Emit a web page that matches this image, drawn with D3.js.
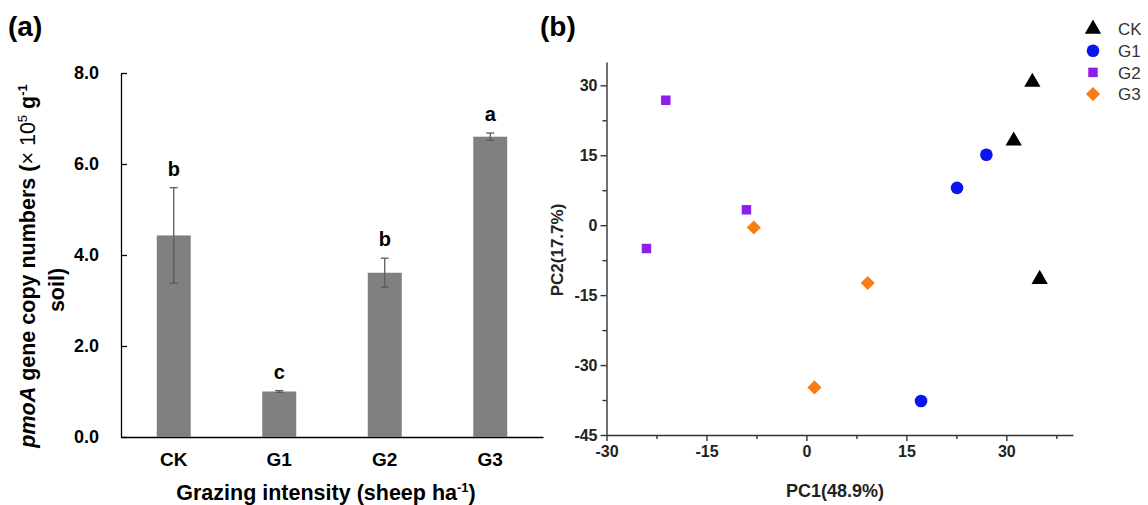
<!DOCTYPE html>
<html>
<head>
<meta charset="utf-8">
<script src="https://cdn.jsdelivr.net/npm/d3@7"></script>
<style>
  body { margin: 0; background: #fff; }
  svg { display: block; font-family: Arial, "Liberation Sans", sans-serif; }
</style>
</head>
<body>
<svg id="fig" width="1148" height="505"></svg>
<script>
// ---- panel (a) data: pmoA copy numbers by grazing intensity ----
let groups = ['CK', 'G1', 'G2', 'G3'];
let copyMeans = [4.43, 1.0, 3.61, 6.60];
let copyErrors = [1.05, 0.02, 0.32, 0.08];
let sigLetters = ['b', 'c', 'b', 'a'];
let copyTicks = [0, 2, 4, 6, 8];

// ---- panel (b) data: PCA scores, three replicates per group ----
let pcaGroup = ['CK', 'CK', 'CK', 'G1', 'G1', 'G1', 'G2', 'G2', 'G2', 'G3', 'G3', 'G3'];
let pc1 = [33.9, 31.1, 35.0, 27.0, 22.6, 17.2, -21.1, -9.0, -24.0, -7.9, 9.2, 1.2];
let pc2 = [30.7, 18.1, -11.6, 15.1, 8.0, -37.7, 26.8, 3.3, -5.0, -0.5, -12.4, -34.8];
let pc1Ticks = [-30, -15, 0, 15, 30];
let pc1Minor = [-22.5, -7.5, 7.5, 22.5, 37.5];
let pc2Ticks = [-45, -30, -15, 0, 15, 30];
let pc2Minor = [-37.5, -22.5, -7.5, 7.5, 22.5];

let svg = d3.select('#fig');

// ================= panel (a) =================
let a = svg.append('g').attr('class', 'panel-a');

let xA = d3.scaleBand()
    .domain(groups)
    .range([121, 543])
    .paddingInner(0.678)
    .paddingOuter(0.339);
let yA = d3.scaleLinear().domain([0, 8]).range([437, 73]);

a.append('g')
    .attr('transform', 'translate(121,0)')
    .call(d3.axisLeft(yA).tickValues(copyTicks).tickFormat(d3.format('.1f'))
        .tickSizeInner(-6).tickSizeOuter(0).tickPadding(22))
    .call(g => g.selectAll('text').attr('font-size', 18).attr('font-weight', 'bold').attr('fill', '#000'))
    .call(g => g.selectAll('line,path').attr('stroke', '#000').attr('stroke-width', 1.3))
    .attr('font-family', null);

a.append('g')
    .attr('transform', 'translate(0,437)')
    .call(d3.axisBottom(xA).tickSize(0).tickPadding(16))
    .call(g => g.selectAll('text').attr('font-size', 19).attr('font-weight', 'bold').attr('fill', '#000'))
    .call(g => g.selectAll('path').attr('stroke', '#000').attr('stroke-width', 1.3))
    .attr('font-family', null);

let bars = a.append('g').selectAll('g')
    .data(groups.map((g, i) => ({ g, m: copyMeans[i], e: copyErrors[i], s: sigLetters[i] })))
    .join('g');

bars.append('rect')
    .attr('x', d => xA(d.g))
    .attr('width', xA.bandwidth())
    .attr('y', d => yA(d.m))
    .attr('height', d => yA(0) - yA(d.m))
    .attr('fill', '#808080');

// error bars
let cx = d => xA(d.g) + xA.bandwidth() / 2;
bars.append('line')
    .attr('x1', cx).attr('x2', cx)
    .attr('y1', d => yA(d.m - d.e)).attr('y2', d => yA(d.m + d.e))
    .attr('stroke', '#5a5a5a').attr('stroke-width', 1.3);
bars.selectAll('line.cap')
    .data(d => [{ d, v: d.m + d.e }, { d, v: d.m - d.e }])
    .join('line')
    .attr('class', 'cap')
    .attr('x1', o => cx(o.d) - 4).attr('x2', o => cx(o.d) + 4)
    .attr('y1', o => yA(o.v)).attr('y2', o => yA(o.v))
    .attr('stroke', '#5a5a5a').attr('stroke-width', 1.3);

bars.append('text')
    .attr('x', cx)
    .attr('y', d => yA(d.m + d.e) - 12)
    .attr('text-anchor', 'middle')
    .attr('font-size', 20).attr('font-weight', 'bold')
    .text(d => d.s);

// axis titles
let xt = a.append('text')
    .attr('x', 326).attr('y', 500)
    .attr('text-anchor', 'middle')
    .attr('font-size', 21.5).attr('font-weight', 'bold');
xt.append('tspan').text('Grazing intensity (sheep ha');
xt.append('tspan').attr('dy', -8).attr('font-size', 13).text('-1');
xt.append('tspan').attr('dy', 8).text(')');

let yt = a.append('text')
    .attr('transform', 'translate(35,266) rotate(-90)')
    .attr('text-anchor', 'middle')
    .attr('font-size', 21.5).attr('font-weight', 'bold');
yt.append('tspan').attr('font-style', 'italic').text('pmoA');
yt.append('tspan').text(' gene copy numbers (');
yt.append('tspan').attr('font-weight', 'normal').text('× 10');
yt.append('tspan').attr('font-weight', 'normal').attr('dy', -8).attr('font-size', 13).text('5');
yt.append('tspan').attr('dy', 8).text(' g');
yt.append('tspan').attr('dy', -8).attr('font-size', 13).text('-1');

a.append('text')
    .attr('transform', 'translate(64,290) rotate(-90)')
    .attr('text-anchor', 'middle')
    .attr('font-size', 21.5).attr('font-weight', 'bold')
    .text('soil)');

svg.append('text')
    .attr('x', 8).attr('y', 36)
    .attr('font-size', 28).attr('font-weight', 'bold')
    .text('(a)');

// ================= panel (b) =================
let b = svg.append('g').attr('class', 'panel-b');
let xB = d3.scaleLinear().domain([-30, 40]).range([606.5, 1073]);
let yB = d3.scaleLinear().domain([-45, 35]).range([435, 62]);
let axisColor = '#333';

function styleAxis(g) {
    g.attr('font-family', null);
    g.selectAll('line,path').attr('stroke', axisColor).attr('stroke-width', 1.4);
    g.selectAll('text').attr('font-size', 16).attr('font-weight', 'bold').attr('fill', '#222');
}

// plain hyphen for negatives, like the original
let fmt = d => String(d);

b.append('g')
    .attr('transform', 'translate(0,435)')
    .call(d3.axisBottom(xB).tickValues(pc1Ticks).tickFormat(fmt).tickSizeInner(6).tickSizeOuter(0).tickPadding(5))
    .call(styleAxis);
b.append('g')
    .attr('transform', 'translate(0,435)')
    .call(d3.axisBottom(xB).tickValues(pc1Minor).tickFormat('').tickSizeInner(4).tickSizeOuter(0))
    .call(styleAxis)
    .call(g => g.select('path').remove());

b.append('g')
    .attr('transform', 'translate(606.5,0)')
    .call(d3.axisLeft(yB).tickValues(pc2Ticks).tickFormat(fmt).tickSizeInner(6).tickSizeOuter(0).tickPadding(3))
    .call(styleAxis);
b.append('g')
    .attr('transform', 'translate(606.5,0)')
    .call(d3.axisLeft(yB).tickValues(pc2Minor).tickFormat('').tickSizeInner(4).tickSizeOuter(0))
    .call(styleAxis)
    .call(g => g.select('path').remove());

b.append('text')
    .attr('x', 835).attr('y', 497)
    .attr('text-anchor', 'middle')
    .attr('font-size', 18).attr('font-weight', 'bold').attr('fill', '#222')
    .text('PC1(48.9%)');
b.append('text')
    .attr('transform', 'translate(563,250) rotate(-90)')
    .attr('text-anchor', 'middle')
    .attr('font-size', 17).attr('font-weight', 'bold').attr('fill', '#222')
    .text('PC2(17.7%)');

svg.append('text')
    .attr('x', 540).attr('y', 36)
    .attr('font-size', 28).attr('font-weight', 'bold')
    .text('(b)');

// marker symbols per group (G3 diamond = rotated square)
let symType = { CK: d3.symbolTriangle, G1: d3.symbolCircle, G2: d3.symbolSquare, G3: d3.symbolSquare };
let symSize = { CK: 115, G1: 125, G2: 90, G3: 100 };
let symRot = { CK: 0, G1: 0, G2: 0, G3: 45 };
let symColor = { CK: '#000000', G1: '#0a14ee', G2: '#8c1ff0', G3: '#fb7d12' };
let sym = g => d3.symbol().type(symType[g]).size(symSize[g])();

b.append('g').selectAll('path')
    .data(pcaGroup.map((g, i) => ({ g, x: pc1[i], y: pc2[i] })))
    .join('path')
    .attr('transform', d => `translate(${xB(d.x)},${yB(d.y)}) rotate(${symRot[d.g]})`)
    .attr('d', d => sym(d.g))
    .attr('fill', d => symColor[d.g]);

let legend = b.append('g').selectAll('g')
    .data(groups)
    .join('g')
    .attr('transform', (d, i) => `translate(1093,${29 + i * 21.7})`);
legend.append('path')
    .attr('transform', d => `rotate(${symRot[d]})`)
    .attr('d', d => sym(d))
    .attr('fill', d => symColor[d]);
legend.append('text')
    .attr('x', 25).attr('dy', '0.36em')
    .attr('font-size', 17).attr('fill', '#333')
    .text(d => d);
</script>
</body>
</html>
